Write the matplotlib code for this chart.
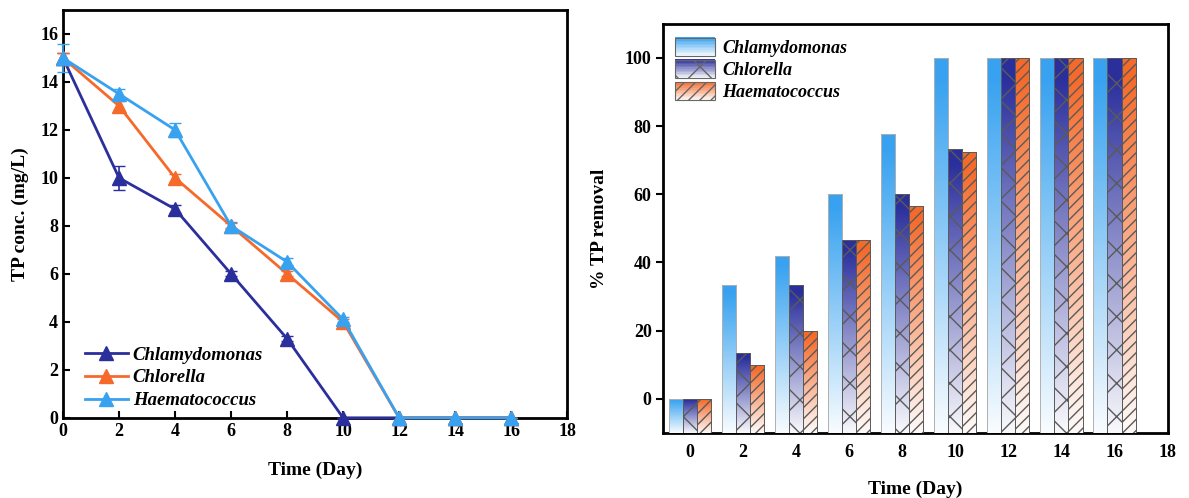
import matplotlib
matplotlib.use("Agg")
import matplotlib.pyplot as plt
import numpy as np
from matplotlib.colors import LinearSegmentedColormap, to_rgb
from matplotlib.legend_handler import HandlerBase
from matplotlib.lines import Line2D
from matplotlib.patches import Rectangle

plt.rcParams["font.family"] = ["Liberation Serif", "DejaVu Serif"]
plt.rcParams["font.weight"] = "bold"
plt.rcParams["hatch.linewidth"] = 1.0

species = ["Chlamydomonas", "Chlorella", "Haematococcus"]
NAVY, ORANGE, SKY = "#2b2f9c", "#f56a2a", "#38a2f0"
line_colors = [NAVY, ORANGE, SKY]
bar_colors = [SKY, NAVY, ORANGE]
hatches = ["", "x", "///"]

# TP concentration (mg/L)
days = [0, 2, 4, 6, 8, 10, 12, 14, 16]
conc_chlamy = [15.0, 10.0, 8.7, 6.0, 3.3, 0.0, 0.0, 0.0, 0.0]
conc_chlor = [15.0, 13.0, 10.0, 8.0, 6.0, 4.0, 0.0, 0.0, 0.0]
conc_haema = [15.0, 13.5, 12.0, 8.0, 6.5, 4.1, 0.0, 0.0, 0.0]
err_chlamy = [0.2, 0.5, 0.15, 0.1, 0.1, 0.0, 0.0, 0.0, 0.0]
err_chlor = [0.2, 0.2, 0.15, 0.1, 0.1, 0.1, 0.0, 0.0, 0.0]
err_haema = [0.6, 0.2, 0.3, 0.15, 0.15, 0.1, 0.0, 0.0, 0.0]

# % TP removal
rem_chlamy = [0, 33.3, 42.0, 60.0, 77.8, 100, 100, 100, 100]
rem_chlor = [0, 13.3, 33.3, 46.7, 60.0, 73.3, 100, 100, 100]
rem_haema = [0, 10.0, 20.0, 46.7, 56.7, 72.5, 100, 100, 100]

conc = [conc_chlamy, conc_chlor, conc_haema]
errs = [err_chlamy, err_chlor, err_haema]
removal = [rem_chlamy, rem_chlor, rem_haema]

fig = plt.figure(figsize=(11.89, 4.98), dpi=100)
ax1 = fig.add_axes([0.053, 0.161, 0.424, 0.819])
ax2 = fig.add_axes([0.558, 0.131, 0.424, 0.821])

# ---- left: concentration lines
for name, c, y, e in zip(species, line_colors, conc, errs):
    ax1.errorbar(days, y, yerr=e, color=c, marker="^", markersize=10, lw=2,
                 capsize=4, elinewidth=1.2, label=name, clip_on=False, zorder=3)
ax1.set_xlim(0, 18)
ax1.set_ylim(0, 17)
ax1.set_xticks(range(0, 19, 2))
ax1.set_yticks(range(0, 17, 2))
ax1.tick_params(direction="in", length=5, width=1.5, labelsize=13)
for s in ax1.spines.values():
    s.set_linewidth(2)
ax1.set_xlabel("Time (Day)", fontsize=14, fontweight="bold", labelpad=16)
ax1.set_ylabel("TP conc. (mg/L)", fontsize=14, fontweight="bold", labelpad=8)
handles = [Line2D([], [], color=c, marker="^", markersize=10, lw=2) for c in line_colors]
ax1.legend(handles, species, loc="lower left", bbox_to_anchor=(0.01, -0.02),
           frameon=False, handlelength=2.3, handletextpad=0.25, labelspacing=0.3,
           prop={"style": "italic", "weight": "bold", "size": 13.5})


# ---- right: gradient bars
def fade_cmap(c):
    return LinearSegmentedColormap.from_list("f", ["white", to_rgb(c)])


class GradientHandler(HandlerBase):
    def __init__(self, color, hatch):
        super().__init__()
        self.color = color
        self.hatch = hatch

    def create_artists(self, legend, orig_handle, xdescent, ydescent, width,
                       height, fontsize, trans):
        cmap = fade_cmap(self.color)
        n = 12
        arts = []
        for i in range(n):
            arts.append(Rectangle((-xdescent, -ydescent + height * i / n), width,
                                  height / n + 0.2, facecolor=cmap((i + 0.5) / n),
                                  edgecolor="none", transform=trans))
        arts.append(Rectangle((-xdescent, -ydescent), width, height, facecolor="none",
                              edgecolor="#666666", hatch=self.hatch, lw=0.8,
                              transform=trans))
        return arts


width = 0.53
bottom = -10
x = np.array(days, dtype=float)
grad = np.linspace(0, 1, 256).reshape(-1, 1)
for i, (name, c, vals, h) in enumerate(zip(species, bar_colors, removal, hatches)):
    xs = x + (i - 1) * width
    heights = np.array(vals) - bottom
    bars = ax2.bar(xs, heights, width=width, bottom=bottom, facecolor="none",
                   edgecolor="none", zorder=3, clip_on=False)
    for b in bars:
        bx, by = b.get_x(), b.get_y()
        im = ax2.imshow(grad, extent=[bx, bx + b.get_width(), by, by + b.get_height()],
                        origin="lower", cmap=fade_cmap(c), vmin=-0.03, vmax=0.95,
                        aspect="auto", zorder=3)
        im.set_clip_path(b)
    ax2.bar(xs, heights, width=width, bottom=bottom, facecolor="none",
            edgecolor="#5a5a5a" if h else "#b0b0b0", hatch=h, lw=0.7, zorder=4)

ax2.set_xlim(-1, 18)
ax2.set_ylim(-10, 110)
ax2.set_xticks(range(0, 19, 2))
ax2.set_yticks(range(0, 101, 20))
ax2.tick_params(axis="y", direction="out", length=5, width=1.5, labelsize=13)
ax2.tick_params(axis="x", length=0, labelsize=13, pad=8)
for s in ax2.spines.values():
    s.set_linewidth(2)
ax2.set_xlabel("Time (Day)", fontsize=14, fontweight="bold", labelpad=14)
ax2.set_ylabel("% TP removal", fontsize=14, fontweight="bold", labelpad=12)
proxies = [Rectangle((0, 0), 1, 1) for _ in species]
ax2.legend(proxies, species, loc="upper left", bbox_to_anchor=(0.0, 0.995),
           frameon=False, handlelength=2.2, handleheight=1.2, handletextpad=0.4,
           labelspacing=0.15, borderaxespad=0.25,
           handler_map={p: GradientHandler(c, h) for p, c, h in zip(proxies, bar_colors, hatches)},
           prop={"style": "italic", "weight": "bold", "size": 13})

fig.savefig("out.png", dpi=100)
